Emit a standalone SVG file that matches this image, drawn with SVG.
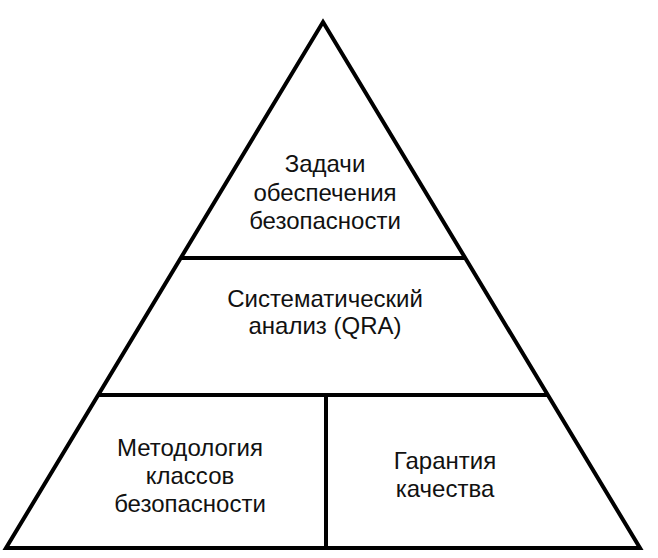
<svg xmlns="http://www.w3.org/2000/svg" width="658" height="558" viewBox="0 0 658 558">
<style>
.ln{fill:none;stroke:#000;stroke-width:4;stroke-linejoin:miter;stroke-linecap:butt}
.t{font-family:"Liberation Sans",Arial,sans-serif;font-size:24px;fill:#111;text-anchor:middle}
</style>
<rect width="658" height="558" fill="#fff"/>
<g id="connectors">
<polygon class="ln" points="323,22 640,548 6,548"/>
<line class="ln" x1="181" y1="258" x2="465" y2="258"/>
<line class="ln" x1="98" y1="395" x2="548" y2="395"/>
<line class="ln" x1="326" y1="395" x2="326" y2="548"/>
</g>
<g id="n1">
<text class="t" x="325" y="172">Задачи</text>
<text class="t" x="325" y="201">обеспечения</text>
<text class="t" x="325" y="229">безопасности</text>
</g>
<g id="n2">
<text class="t" x="325" y="307">Систематический</text>
<text class="t" x="325" y="334">анализ (QRA)</text>
</g>
<g id="n3">
<text class="t" x="190" y="456">Методология</text>
<text class="t" x="190" y="484">классов</text>
<text class="t" x="190" y="512">безопасности</text>
</g>
<g id="n4">
<text class="t" x="445" y="469">Гарантия</text>
<text class="t" x="445" y="497">качества</text>
</g>
</svg>
